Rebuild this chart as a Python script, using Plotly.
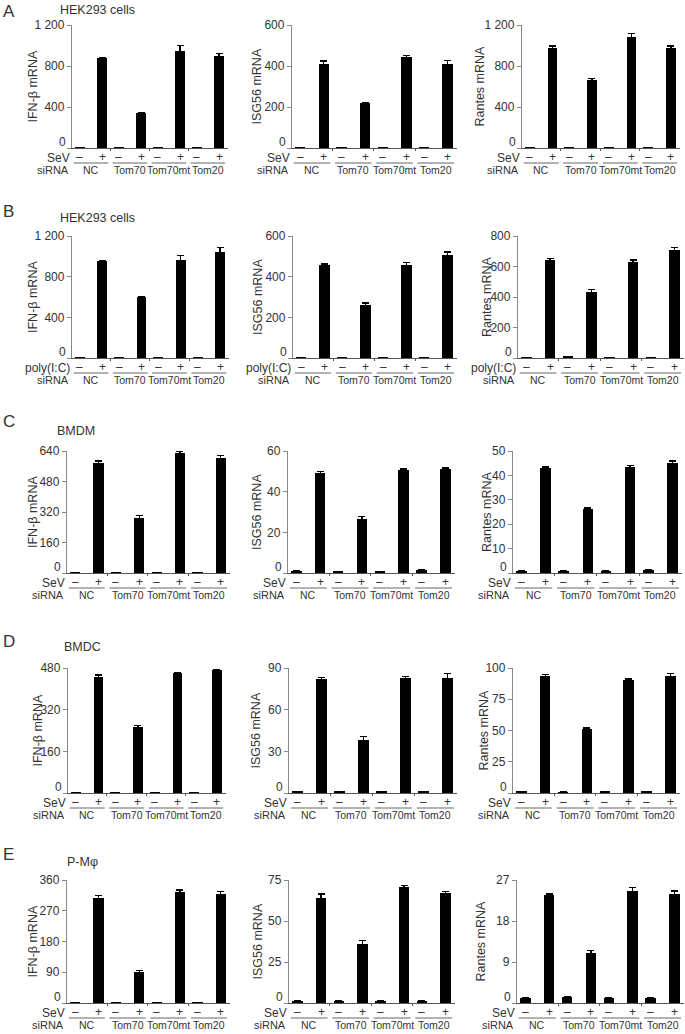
import plotly.graph_objects as go

W, H = 685, 1034

# ---------------- data ----------------
groups = ["NC", "Tom70", "Tom70mt", "Tom20"]
signs = ["–", "+"]
stimuli = ["SeV", "poly(I:C)", "SeV", "SeV", "SeV"]
row_letters = ["A", "B", "C", "D", "E"]
row_titles = ["HEK293 cells", "HEK293 cells", "BMDM", "BMDC", "P-Mφ"]
ytitles = ["IFN-β mRNA", "ISG56 mRNA", "Rantes mRNA"]

# order: NC-, NC+, Tom70-, Tom70+, Tom70mt-, Tom70mt+, Tom20-, Tom20+
A_ifn = [5, 875, 5, 340, 6, 950, 5, 900]
A_ifn_err = [None, 8, None, 7, None, 50, None, 25]
A_isg = [2, 410, 2, 218, 3, 446, 2, 408]
A_isg_err = [None, 15, None, 4, None, 4, None, 20]
A_ran = [5, 980, 4, 665, 6, 1085, 4, 975]
A_ran_err = [None, 15, None, 12, None, 35, None, 20]

B_ifn = [5, 950, 5, 600, 7, 965, 6, 1045]
B_ifn_err = [None, 8, None, 8, None, 40, None, 40]
B_isg = [2, 458, 3, 260, 2, 455, 3, 505]
B_isg_err = [None, 4, None, 10, None, 15, None, 17]
B_ran = [4, 645, 9, 430, 3, 630, 4, 705]
B_ran_err = [None, 8, None, 17, None, 13, None, 20]

C_ifn = [3, 578, 3, 288, 3, 628, 3, 605]
C_ifn_err = [None, 9, None, 14, None, 12, None, 11]
C_isg = [1.0, 49, 0.8, 26.8, 0.9, 50.5, 1.6, 51.3]
C_isg_err = [None, 0.8, None, 1.0, None, 0.6, None, 0.4]
C_ran = [1.0, 43, 0.9, 26.3, 1.0, 43.4, 1.4, 45]
C_ran_err = [None, 0.5, None, 0.4, None, 0.6, None, 0.9]

D_ifn = [2, 445, 2, 255, 2, 462, 2, 472]
D_ifn_err = [None, 8, None, 3, None, 2, None, 3]
D_isg = [1.0, 82, 1.0, 38, 1.0, 82.5, 1.0, 83]
D_isg_err = [None, 1.2, None, 2.5, None, 1.5, None, 3]
D_ran = [1.0, 94, 0.8, 51.5, 1.2, 90.5, 1.0, 94]
D_ran_err = [None, 0.8, None, 0.5, None, 0.8, None, 1.5]

E_ifn = [2, 307, 2, 92, 2, 326, 2, 318]
E_ifn_err = [None, 8, None, 4, None, 5, None, 8]
E_isg = [1.5, 64, 1.5, 36, 1.5, 70.5, 1.5, 67]
E_isg_err = [None, 2.5, None, 2.2, None, 1, None, 1]
E_ran = [1.2, 23.6, 1.3, 11, 1.1, 24.5, 1.1, 24]
E_ran_err = [None, 0.3, None, 0.6, None, 0.8, None, 0.6]

# y ticks per panel
A_ticks = [[0, 400, 800, 1200], [0, 200, 400, 600], [0, 400, 800, 1200]]
B_ticks = [[0, 400, 800, 1200], [0, 200, 400, 600], [0, 200, 400, 600, 800]]
C_ticks = [[0, 160, 320, 480, 640], [0, 20, 40, 60], [0, 10, 20, 30, 40, 50]]
D_ticks = [[0, 160, 320, 480], [0, 30, 60, 90], [0, 25, 50, 75, 100]]
E_ticks = [[0, 90, 180, 270, 360], [0, 25, 50, 75], [0, 9, 18, 27]]

rows = [
    ([A_ifn, A_isg, A_ran], [A_ifn_err, A_isg_err, A_ran_err], A_ticks),
    ([B_ifn, B_isg, B_ran], [B_ifn_err, B_isg_err, B_ran_err], B_ticks),
    ([C_ifn, C_isg, C_ran], [C_ifn_err, C_isg_err, C_ran_err], C_ticks),
    ([D_ifn, D_isg, D_ran], [D_ifn_err, D_isg_err, D_ran_err], D_ticks),
    ([E_ifn, E_isg, E_ran], [E_ifn_err, E_isg_err, E_ran_err], E_ticks),
]

# ---------------- layout geometry (pixels) ----------------
row_top = [25, 236, 451, 668, 880]
row_zero = [148, 358, 573, 793, 1003]
col_px = [
    [(72, 228), (292, 457), (522, 680)],
    [(72, 229), (293, 457), (518, 684)],
    [(67, 230), (288, 455), (513, 682)],
    [(68, 226), (289, 457), (513, 680)],
    [(67, 230), (289, 455), (517, 684)],
]
ytitle_x = [
    [33, 257, 480],
    [33, 258, 487],
    [33, 257, 487],
    [37, 255, 483],
    [32, 257, 480],
]
letter_y = [0, 200, 410, 630, 843]
title_pos = [(98, 10), (98, 218), (76, 431), (82, 647), (82, 862)]

FONT = "Arial, Liberation Sans, sans-serif"
TXT = "#333333"


def px(x):
    return x / W


def py(y):
    return 1 - y / H


xpos = [g * 3.5 + t * 2 for g in range(len(groups)) for t in range(len(signs))]
XR = [-0.7, 13.3]

fig = go.Figure()
annotations = []
shapes = []
layout = {}

idx = 0
for r, (vals, errs, ticks) in enumerate(rows):
    for c in range(3):
        idx += 1
        xa = "x" if idx == 1 else f"x{idx}"
        ya = "y" if idx == 1 else f"y{idx}"
        fig.add_trace(go.Bar(
            x=xpos, y=vals[c], xaxis=xa, yaxis=ya, width=0.88,
            marker=dict(color="black", line=dict(width=0)),
            error_y=dict(type="data", array=errs[c], color="black",
                         thickness=1.3, width=3.5, visible=True),
            showlegend=False, hoverinfo="skip", cliponaxis=False,
        ))
        x0, x1 = col_px[r][c]
        tv = ticks[c]
        # the zero label is drawn separately just above the baseline
        tt = [""] + [f"{v:,}".replace(",", " ") for v in tv[1:]]
        layout["xaxis" if idx == 1 else f"xaxis{idx}"] = dict(
            domain=[px(x0), px(x1)], anchor=ya, range=XR, automargin=False,
            showgrid=False, zeroline=False, showline=True,
            linecolor="#555555", linewidth=1.3,
            tickvals=[2.75, 6.25, 9.75], ticks="outside", ticklen=2,
            tickcolor="#555555", showticklabels=False, fixedrange=True,
        )
        layout["yaxis" if idx == 1 else f"yaxis{idx}"] = dict(
            domain=[py(row_zero[r]), py(row_top[r])], anchor=xa, automargin=False,
            range=[0, tv[-1]], showgrid=False, zeroline=False,
            showline=True, linecolor="#888888", linewidth=1.3,
            tickvals=tv, ticktext=tt, ticks="outside", ticklen=4,
            tickcolor="#888888", tickfont=dict(size=12, color=TXT, family=FONT),
            fixedrange=True,
        )
        z = row_zero[r]
        # zero tick label
        annotations.append(dict(
            x=px(x0 - 5), y=py(z + 1.5), xref="paper", yref="paper",
            text=str(tv[0]), showarrow=False, xanchor="right", yanchor="bottom",
            borderpad=0, font=dict(size=12, color=TXT, family=FONT)))
        # y-axis title
        annotations.append(dict(
            x=px(ytitle_x[r][c]), y=py((row_top[r] + z) / 2), xref="paper", yref="paper",
            text=ytitles[c], textangle=-90, showarrow=False,
            xanchor="center", yanchor="middle",
            font=dict(size=12.5, color=TXT, family=FONT)))
        # stimulus label and signs
        annotations.append(dict(
            x=px(x0 - 1), y=py(z + 1.5), xref="paper", yref="paper",
            text=stimuli[r], showarrow=False, xanchor="right", yanchor="top",
            borderpad=0, font=dict(size=12, color=TXT, family=FONT)))
        annotations.append(dict(
            x=px(x0 - 1), y=py(z + 22), xref="paper", yref="paper",
            text="siRNA", showarrow=False, xanchor="right", yanchor="middle",
            font=dict(size=11, color=TXT, family=FONT)))
        for i, xp in enumerate(xpos):
            annotations.append(dict(
                x=xp, y=py(z + 9), xref=xa, yref="paper",
                text=signs[i % 2], showarrow=False, xanchor="center", yanchor="middle",
                font=dict(size=12, color=TXT, family=FONT)))
        for g, name in enumerate(groups):
            gx0, gx1 = xpos[2 * g], xpos[2 * g + 1]
            shapes.append(dict(
                type="line", xref=xa, yref="paper",
                x0=gx0 - 0.55, x1=gx1 + 0.55, y0=py(z + 15), y1=py(z + 15),
                line=dict(color="#666666", width=1)))
            annotations.append(dict(
                x=(gx0 + gx1) / 2, y=py(z + 22), xref=xa, yref="paper",
                text=name, showarrow=False, xanchor="center", yanchor="middle",
                font=dict(size=10.5, color=TXT, family=FONT)))
    # panel letter and title
    annotations.append(dict(
        x=px(1), y=py(letter_y[r]), xref="paper", yref="paper", text=row_letters[r],
        showarrow=False, xanchor="left", yanchor="top",
        font=dict(size=17, color=TXT, family=FONT)))
    annotations.append(dict(
        x=px(title_pos[r][0]), y=py(title_pos[r][1]), xref="paper", yref="paper",
        text=row_titles[r], showarrow=False, xanchor="center", yanchor="middle",
        font=dict(size=12.5, color=TXT, family=FONT)))

fig.update_layout(
    width=W, height=H, margin=dict(l=0, r=0, t=0, b=0, pad=0, autoexpand=False),
    paper_bgcolor="white", plot_bgcolor="white",
    annotations=annotations, shapes=shapes, bargap=0,
    font=dict(family=FONT, color=TXT),
    **layout,
)
fig.write_html(
    "out.html", config={"displayModeBar": False},
    post_script="document.body.style.margin='0';document.body.style.overflow='hidden';",
)
